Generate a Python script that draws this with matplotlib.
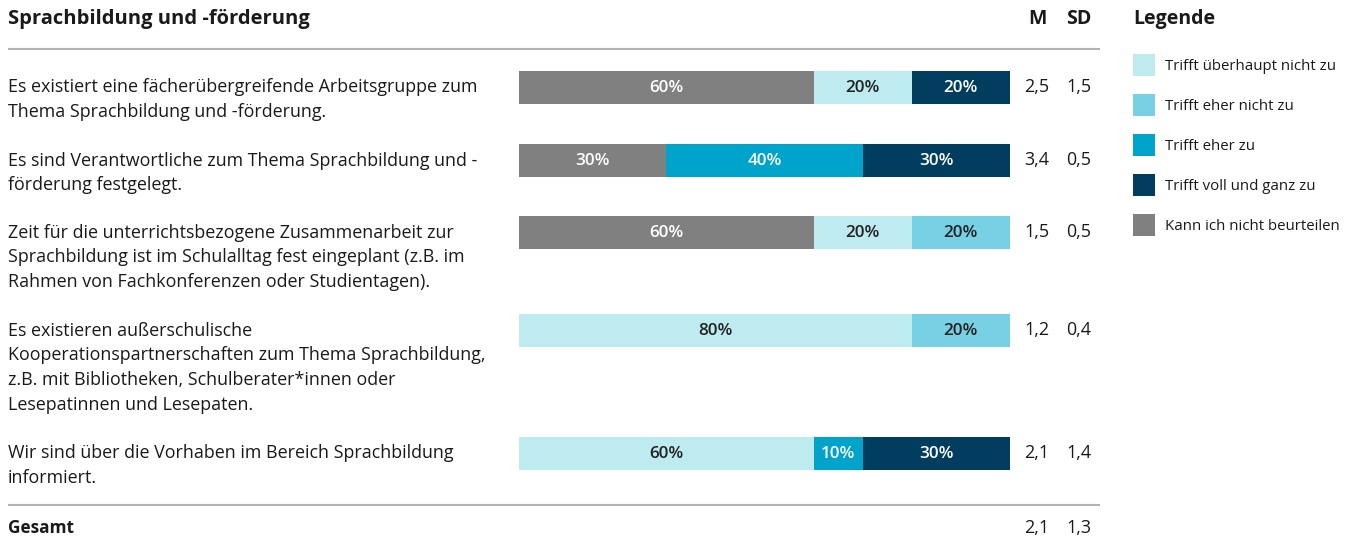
import matplotlib
matplotlib.use("Agg")
import matplotlib.pyplot as plt
import numpy as np

# Survey block: Sprachbildung und -förderung
title = "Sprachbildung und -förderung"
items = [
    ["Es existiert eine fächerübergreifende Arbeitsgruppe zum",
     "Thema Sprachbildung und -förderung."],
    ["Es sind Verantwortliche zum Thema Sprachbildung und -",
     "förderung festgelegt."],
    ["Zeit für die unterrichtsbezogene Zusammenarbeit zur",
     "Sprachbildung ist im Schulalltag fest eingeplant (z.B. im",
     "Rahmen von Fachkonferenzen oder Studientagen)."],
    ["Es existieren außerschulische",
     "Kooperationspartnerschaften zum Thema Sprachbildung,",
     "z.B. mit Bibliotheken, Schulberater*innen oder",
     "Lesepatinnen und Lesepaten."],
    ["Wir sind über die Vorhaben im Bereich Sprachbildung",
     "informiert."],
]
categories = ["Kann ich nicht beurteilen", "Trifft überhaupt nicht zu",
              "Trifft eher nicht zu", "Trifft eher zu", "Trifft voll und ganz zu"]
# shares in percent per item, in category order above
kann_nicht = [60, 30, 60, 0, 0]
ueberhaupt_nicht = [20, 0, 20, 80, 60]
eher_nicht = [0, 0, 20, 20, 0]
eher_zu = [0, 40, 0, 0, 10]
voll_ganz = [20, 30, 0, 0, 30]
mean_vals = ["2,5", "3,4", "1,5", "1,2", "2,1"]
sd_vals = ["1,5", "0,5", "0,5", "0,4", "1,4"]
total_mean, total_sd = "2,1", "1,3"
legend_order = ["Trifft überhaupt nicht zu", "Trifft eher nicht zu", "Trifft eher zu",
                "Trifft voll und ganz zu", "Kann ich nicht beurteilen"]

colors = {
    "Kann ich nicht beurteilen": "#808080",
    "Trifft überhaupt nicht zu": "#BDEBF0",
    "Trifft eher nicht zu": "#77D0E4",
    "Trifft eher zu": "#00A3C9",
    "Trifft voll und ganz zu": "#003D5F",
}
label_colors = {
    "Kann ich nicht beurteilen": "white",
    "Trifft überhaupt nicht zu": "#222222",
    "Trifft eher nicht zu": "#222222",
    "Trifft eher zu": "white",
    "Trifft voll und ganz zu": "white",
}

W, H = 1352, 546
fig = plt.figure(figsize=(W / 100, H / 100), dpi=100)
FONT = "Open Sans"
TXT = "#1a1a1a"
BODY = 12.9

# background axes in pixel coordinates for texts and rules
bg = fig.add_axes([0, 0, 1, 1])
bg.set_xlim(0, W)
bg.set_ylim(H, 0)
bg.axis("off")

# bar axes: x in percent, y in pixel rows
x0, x1 = 519, 1010
bars = fig.add_axes([x0 / W, 0, (x1 - x0) / W, 1])
bars.set_xlim(0, 100)
bars.set_ylim(H, 0)
bars.axis("off")

row_y = [87, 160, 232, 330, 453]
bar_h = 33
series = [kann_nicht, ueberhaupt_nicht, eher_nicht, eher_zu, voll_ganz]
left = np.zeros(len(row_y))
for cat, vals in zip(categories, series):
    vals = np.array(vals, dtype=float)
    bars.barh(row_y, vals, left=left, height=bar_h, color=colors[cat], linewidth=0)
    for y, l, v in zip(row_y, left, vals):
        if v > 0:
            bars.text(l + v / 2, y + 1, f"{int(v)}%", ha="center", va="center",
                      color=label_colors[cat], fontsize=12.3, fontweight="semibold",
                      family=FONT)
    left += vals

# header
bg.text(8, 19, title, ha="left", va="center", fontsize=14.5, fontweight="bold",
        color=TXT, family=FONT)
bg.text(1037, 19, "M", ha="center", va="center", fontsize=14, fontweight="bold",
        color=TXT, family=FONT)
bg.text(1079, 19, "SD", ha="center", va="center", fontsize=14, fontweight="bold",
        color=TXT, family=FONT)
bg.plot([8, 1100], [49, 49], color="#b3b3b3", lw=1.5, solid_capstyle="butt")
bg.plot([8, 1100], [505, 505], color="#b3b3b3", lw=1.5, solid_capstyle="butt")

# item labels and statistics
for lines, y, m, s in zip(items, row_y, mean_vals, sd_vals):
    for i, line in enumerate(lines):
        bg.text(8, y + 0.5 + 24.8 * i, line, ha="left", va="center", fontsize=BODY,
                color=TXT, family=FONT)
    bg.text(1037, y, m, ha="center", va="center", fontsize=BODY, color=TXT, family=FONT)
    bg.text(1079, y, s, ha="center", va="center", fontsize=BODY, color=TXT, family=FONT)

bg.text(8, 528, "Gesamt", ha="left", va="center", fontsize=12.4, fontweight="bold",
        color=TXT, family=FONT)
bg.text(1037, 528, total_mean, ha="center", va="center", fontsize=BODY, color=TXT, family=FONT)
bg.text(1079, 528, total_sd, ha="center", va="center", fontsize=BODY, color=TXT, family=FONT)

# legend
bg.text(1133, 19, "Legende", ha="left", va="center", fontsize=14, fontweight="bold",
        color=TXT, family=FONT)
for i, cat in enumerate(legend_order):
    yc = 65 + 40 * i
    bg.add_patch(plt.Rectangle((1133, yc - 11), 22, 22, color=colors[cat], lw=0))
    bg.text(1165, yc + 1.5, cat, ha="left", va="center", fontsize=10.8, color=TXT,
            family=FONT)

fig.savefig("out.png", dpi=100)
